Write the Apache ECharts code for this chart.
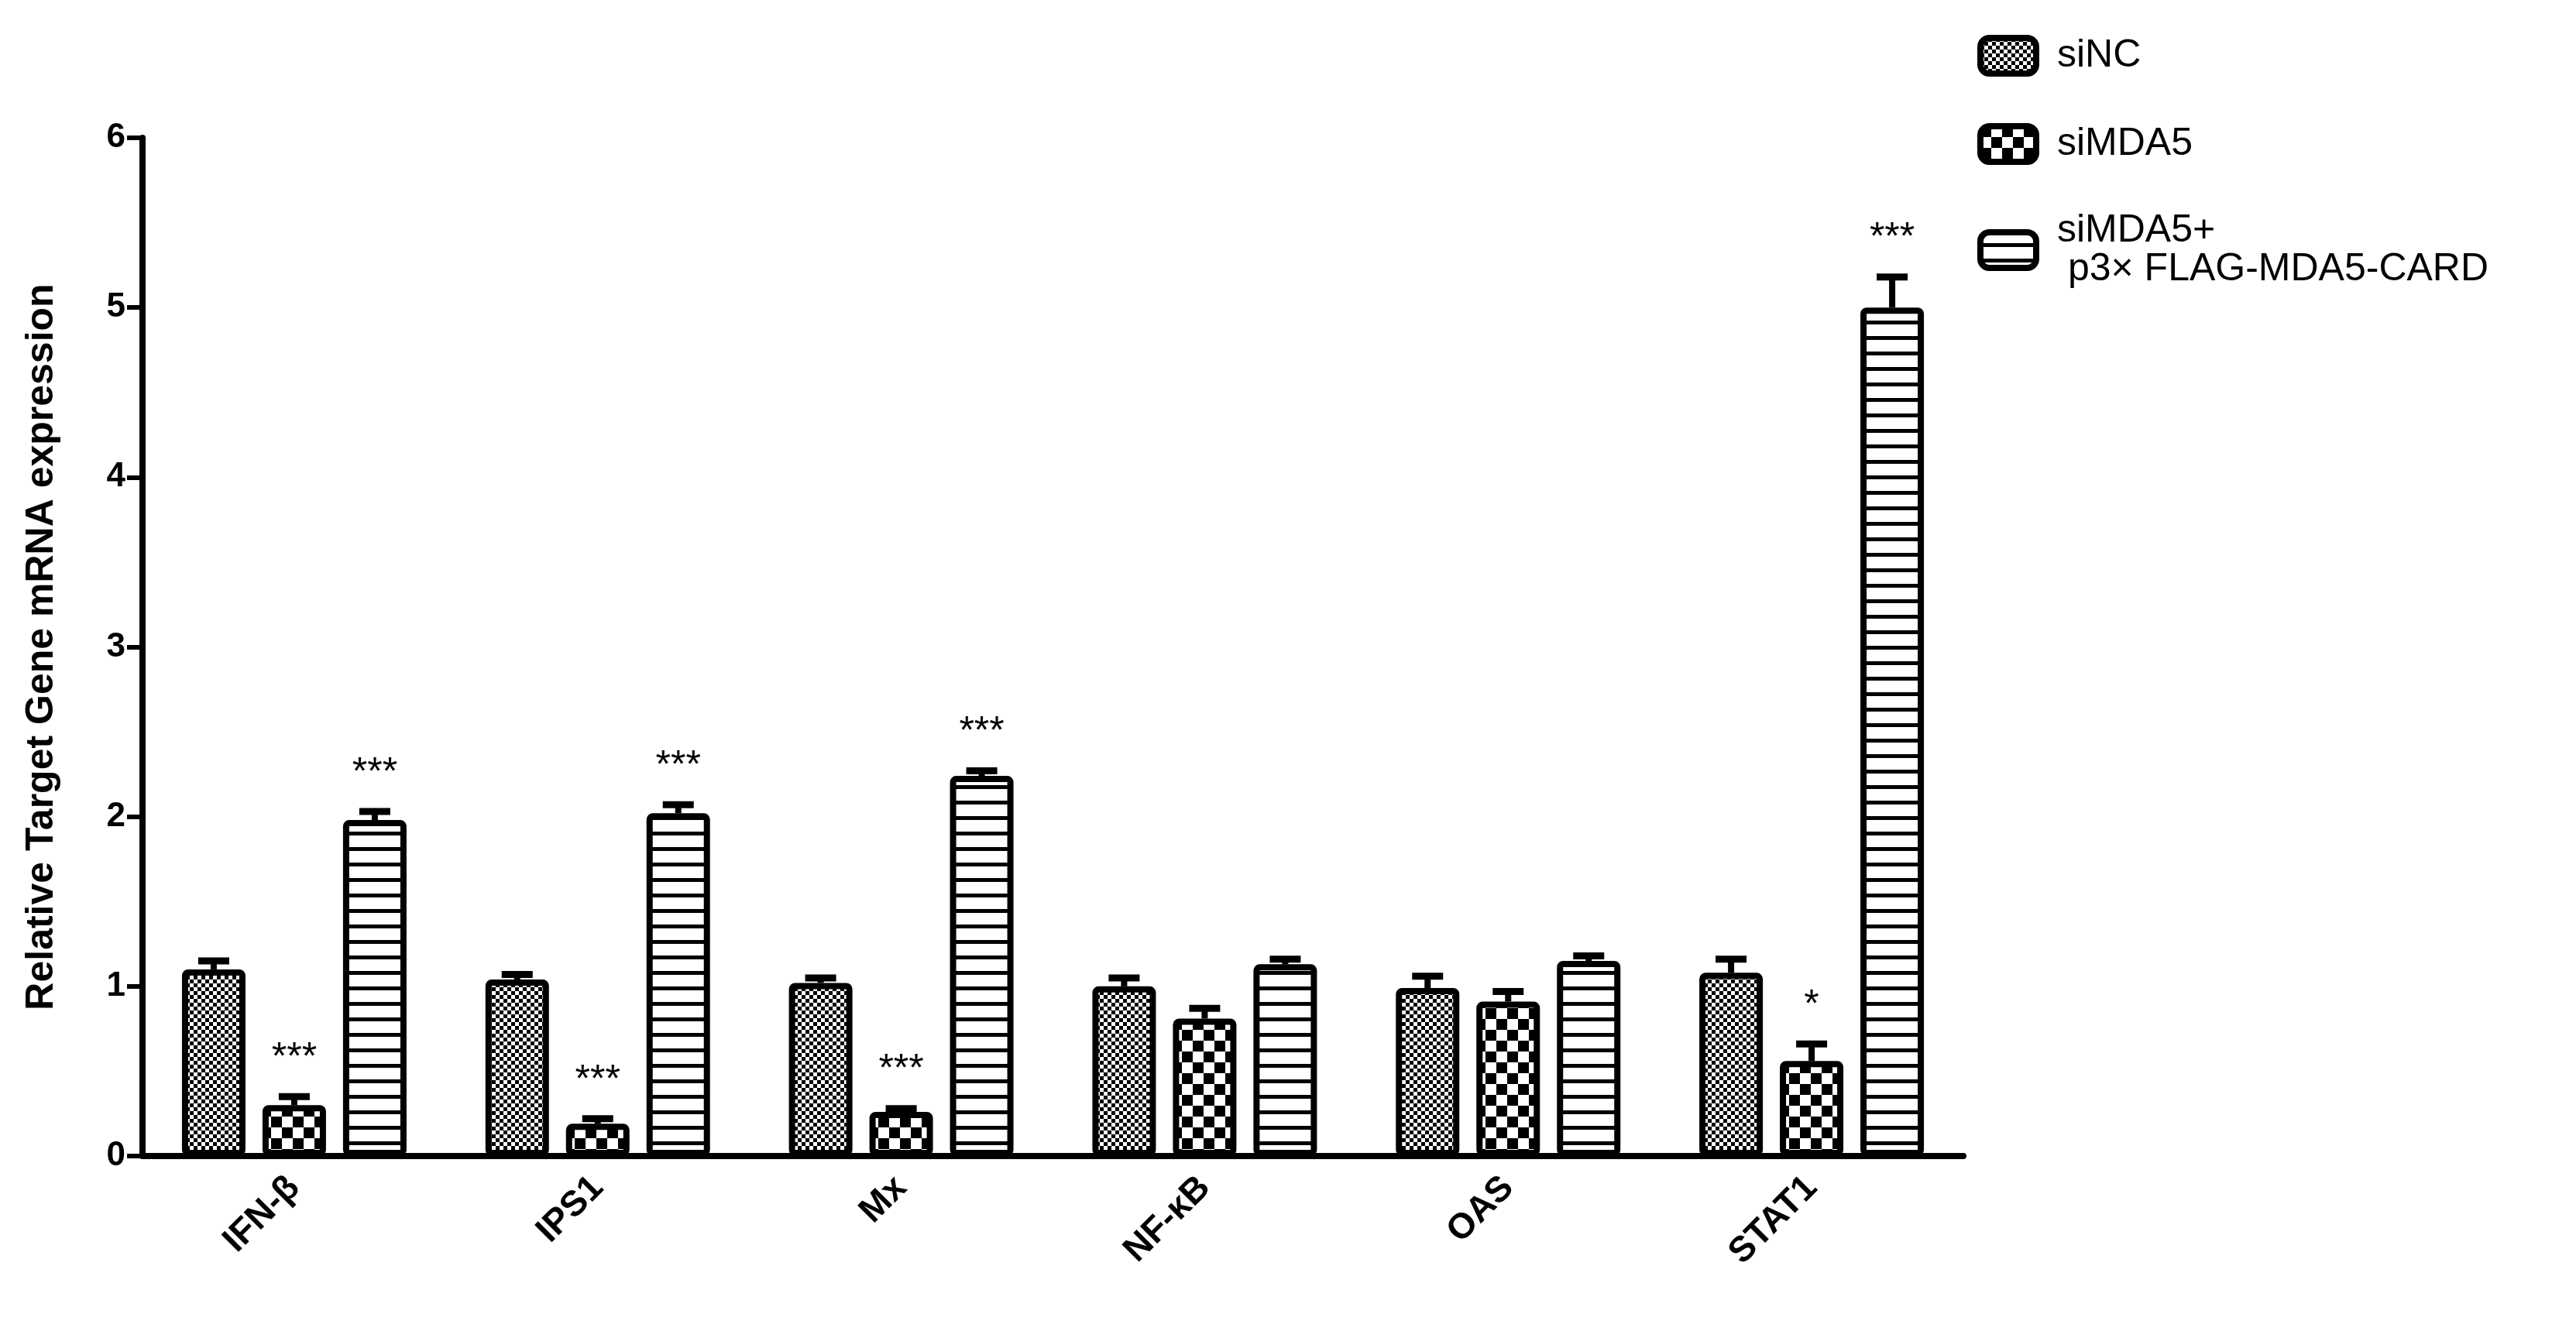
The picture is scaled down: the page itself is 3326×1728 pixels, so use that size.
<!DOCTYPE html>
<html><head><meta charset="utf-8">
<script src="https://cdn.jsdelivr.net/npm/echarts@6/dist/echarts.min.js"></script>
<style>html,body{margin:0;padding:0;background:#fff}#c{width:3326px;height:1728px}</style>
</head><body><div id="c"></div>
<script>
const categories = ['IFN-β','IPS1','Mx','NF-κB','OAS','STAT1'];
const seriesNames = ['siNC','siMDA5','siMDA5+\n p3× FLAG-MDA5-CARD'];
const siNC = [1.10,1.04,1.02,1.00,0.99,1.08];
const siNCErr = [0.05,0.03,0.03,0.05,0.07,0.08];
const siMDA5 = [0.30,0.19,0.26,0.81,0.91,0.56];
const siMDA5Err = [0.05,0.03,0.02,0.06,0.06,0.10];
const siMDA5Card = [1.98,2.02,2.24,1.13,1.15,5.00];
const siMDA5CardErr = [0.05,0.05,0.03,0.03,0.03,0.18];
const sigNC = ['','','','','',''];
const sigMDA5 = ['***','***','***','','','*'];
const sigCard = ['***','***','***','','','***'];
const yTicks = [0,1,2,3,4,5,6];

function pat(type){
  const c=document.createElement('canvas');const x=c.getContext('2d');
  if(type===0){c.width=c.height=10;x.fillStyle='#fff';x.fillRect(0,0,10,10);x.fillStyle='#000';x.fillRect(0,0,5,5);x.fillRect(5,5,5,5);}
  else if(type===1){c.width=c.height=28;x.fillStyle='#fff';x.fillRect(0,0,28,28);x.fillStyle='#000';x.fillRect(0,0,14,14);x.fillRect(14,14,14,14);}
  else {c.width=c.height=20;x.fillStyle='#fff';x.fillRect(0,0,20,20);x.fillStyle='#000';x.fillRect(0,14,20,5);}
  return {image:c,repeat:'repeat'};
}
const vals=[siNC,siMDA5,siMDA5Card], errs=[siNCErr,siMDA5Err,siMDA5CardErr], sigs=[sigNC,sigMDA5,sigCard];
const BW=82, STEP=104;
const series=[];
vals.forEach((v,i)=>{
  series.push({name:seriesNames[i],type:'bar',data:v,barWidth:BW,barGap:((STEP-BW)/BW*100).toFixed(1)+'%',
    itemStyle:{color:pat(i),borderColor:'#000',borderWidth:8,borderRadius:4}});
});
vals.forEach((v,i)=>{
  series.push({type:'custom',z:5,silent:true,
    data:v.map((d,k)=>[k,d,errs[i][k],sigs[i][k]]),
    renderItem:(p,api)=>{
      const k=api.value(0),val=api.value(1),e=api.value(2);
      const b=api.coord([k,val]),t=api.coord([k,val+e]);
      const x=b[0]+(i-1)*STEP;
      const ch=[
        {type:'line',shape:{x1:x,y1:b[1],x2:x,y2:t[1]},style:{stroke:'#000',lineWidth:8}},
        {type:'line',shape:{x1:x-20,y1:t[1],x2:x+20,y2:t[1]},style:{stroke:'#000',lineWidth:9}}
      ];
      const s=sigs[i][k];
      if(s) ch.push({type:'text',x:x,y:t[1]-24,style:{text:s,fill:'#000',font:'50px "Liberation Sans"',align:'center',verticalAlign:'bottom'}});
      return {type:'group',children:ch};
    }});
});
const chart=echarts.init(document.getElementById('c'));
chart.setOption({
  animation:false,
  textStyle:{fontFamily:'Liberation Sans'},
  grid:{left:184,right:791,top:178,bottom:235},
  legend:{orient:'vertical',left:2548,top:40,itemWidth:72,itemHeight:46,itemGap:60,
    data:seriesNames,textStyle:{fontSize:50,color:'#000',fontFamily:'Liberation Sans',padding:[0,0,0,22]},
    itemStyle:{borderWidth:8,borderColor:'#000'}},
  xAxis:{type:'category',data:categories,
    axisLine:{lineStyle:{color:'#000',width:8}},
    axisTick:{alignWithLabel:true,length:22,lineStyle:{width:5,color:'#000'}},
    axisLabel:{rotate:45,fontSize:46,fontWeight:'bold',color:'#000',margin:34}},
  yAxis:{type:'value',min:0,max:6,interval:1,
    name:'Relative Target Gene mRNA expression',nameLocation:'middle',nameGap:105,
    nameTextStyle:{fontSize:50,fontWeight:'bold',color:'#000'},
    axisLine:{show:true,lineStyle:{color:'#000',width:8}},
    axisTick:{show:true,inside:false,length:20,lineStyle:{width:6,color:'#000'}},
    axisLabel:{fontSize:44,fontWeight:'bold',color:'#000',margin:22,formatter:v=>yTicks.includes(v)?String(v):''},
    splitLine:{show:false}},
  series:series
});
</script></body></html>
